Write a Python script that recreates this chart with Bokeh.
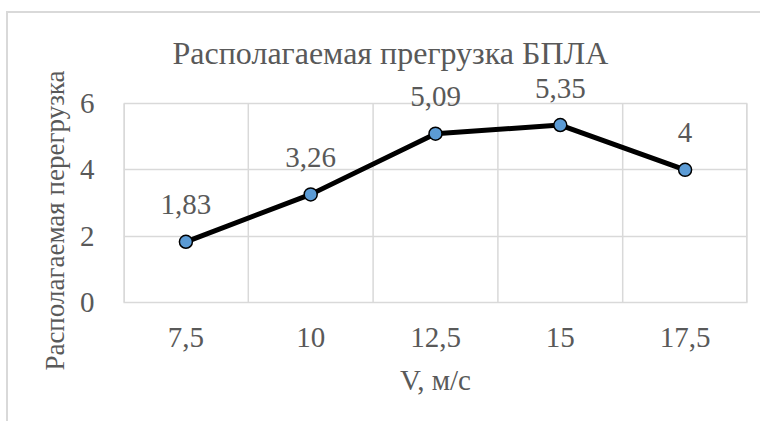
from bokeh.plotting import figure
from bokeh.models import ColumnDataSource, Range1d, FixedTicker, Label, Title
from bokeh.embed import file_html
from bokeh.resources import INLINE

categories = ["7,5", "10", "12,5", "15", "17,5"]
values = [1.83, 3.26, 5.09, 5.35, 4]
y_ticks = [0, 2, 4, 6]
title_text = "Располагаемая прегрузка БПЛА"
x_title = "V, м/с"
y_title = "Располагаемая перегрузка"

TEXT = "#595959"
GRID = "#d9d9d9"
FONT = "Liberation Serif"

n = len(categories)
xs = list(range(n))
labels = [f"{v:g}".replace(".", ",") for v in values]
src = ColumnDataSource(dict(x=xs, y=values, lab=labels))

y_max = y_ticks[-1]
frame_h = 289
plot_h = 199
y_top = y_max * frame_h / plot_h  # room above the plot area for title and labels

p = figure(width=754, height=410, output_backend="svg", toolbar_location=None,
           x_range=Range1d(-0.5, n - 0.5), y_range=Range1d(0, y_top),
           min_border_left=115, min_border_right=15, min_border_top=0, min_border_bottom=121)
p.styles = {"border-top": "2px solid #d9d9d9", "border-left": "2px solid #d9d9d9",
            "margin-top": "11px", "margin-left": "6px"}

p.outline_line_color = None
p.background_fill_color = "white"
p.border_fill_color = "white"

# x axis
p.xaxis.ticker = FixedTicker(ticks=xs)
p.xaxis.major_label_overrides = {i: c for i, c in enumerate(categories)}
p.xaxis.axis_line_color = GRID
p.xaxis.axis_line_width = 1.5
p.xaxis.major_tick_line_color = None
p.xaxis.minor_tick_line_color = None
p.xaxis.major_label_standoff = 19
p.xaxis.major_label_text_font = FONT
p.xaxis.major_label_text_font_size = "29px"
p.xaxis.major_label_text_color = TEXT
p.xaxis.axis_label = x_title
p.xaxis.axis_label_text_font = FONT
p.xaxis.axis_label_text_font_size = "29px"
p.xaxis.axis_label_text_font_style = "normal"
p.xaxis.axis_label_text_color = TEXT
p.xaxis.axis_label_standoff = 14

# y axis
p.yaxis.ticker = FixedTicker(ticks=y_ticks)
p.yaxis.axis_line_color = None
p.yaxis.major_tick_line_color = None
p.yaxis.minor_tick_line_color = None
p.yaxis.major_label_standoff = 23
p.yaxis.major_label_text_font = FONT
p.yaxis.major_label_text_font_size = "29px"
p.yaxis.major_label_text_color = TEXT

# y-axis title, placed in the left panel so it can be positioned along the plot area
p.add_layout(Title(text=y_title, align="right", offset=57, text_font=FONT,
                   text_font_size="27px", text_font_style="normal", text_color=TEXT,
                   standoff=14), "left")

# grid: horizontal lines at y ticks, vertical lines at category boundaries (only over plot area)
p.xgrid.grid_line_color = None
p.ygrid.ticker = FixedTicker(ticks=y_ticks)
p.ygrid.grid_line_color = GRID
p.ygrid.grid_line_width = 1.5
bounds_x = [i - 0.5 for i in range(n + 1)]
p.segment(x0=bounds_x, y0=[y_ticks[0]] * len(bounds_x), x1=bounds_x, y1=[y_max] * len(bounds_x),
          line_color=GRID, line_width=1.5)
p.segment(x0=[bounds_x[0], bounds_x[-1]], y0=[y_ticks[0]] * 2, x1=[bounds_x[0], bounds_x[-1]],
          y1=[y_max] * 2, line_color=GRID, line_width=3)

p.line("x", "y", source=src, line_color="black", line_width=5)
p.scatter("x", "y", source=src, size=13, fill_color="#5B9BD5", line_color="black", line_width=1.5)

for x, y, lab in zip(xs, values, labels):
    p.add_layout(Label(x=x, y=y, text=lab, y_offset=37, text_align="center",
                       text_baseline="alphabetic", text_font=FONT,
                       text_font_size="29px", text_color=TEXT))

p.add_layout(Label(x=-0.5, y=y_max, text=title_text, x_offset=49, y_offset=51,
                   text_align="left", text_baseline="alphabetic", text_font=FONT,
                   text_font_size="32px", text_color=TEXT))

open("out.html", "w").write(file_html(p, INLINE))
